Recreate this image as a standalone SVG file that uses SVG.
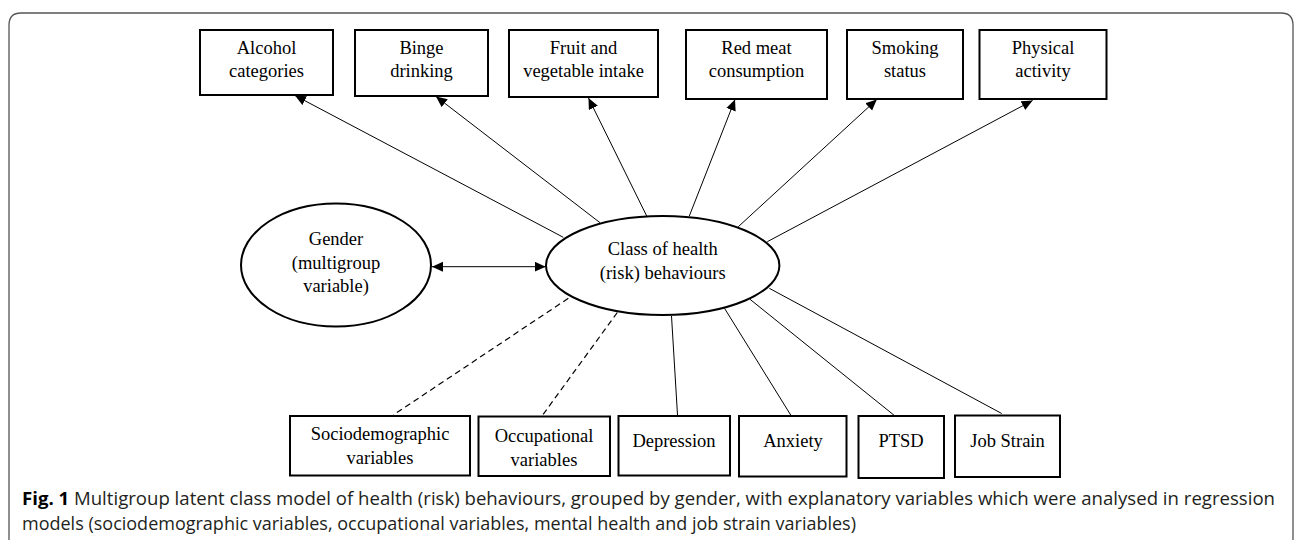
<svg xmlns="http://www.w3.org/2000/svg" width="1295" height="540" viewBox="0 0 1295 540">
<defs>
<marker id="ah" markerUnits="userSpaceOnUse" markerWidth="12" markerHeight="11" refX="11" refY="5" orient="auto-start-reverse">
<path d="M0,0 L11,5 L0,10 z" fill="#000"/>
</marker>
<style>
.box{fill:#fff;stroke:#000;stroke-width:2}
.ell{fill:#fff;stroke:#000;stroke-width:2}
.t{font-family:"Liberation Serif","Times New Roman",serif;font-size:18.5px;fill:#000;text-anchor:middle}
.c{stroke:#000;stroke-width:1;fill:none}
.arr{marker-end:url(#ah)}
.dash{stroke-dasharray:6 4;stroke-width:1.2}
.cap{font-family:"Open Sans","Noto Sans",sans-serif;font-size:18px;fill:#231f20}
</style>
</defs>
<rect width="1295" height="540" fill="#fff"/>
<path d="M9,540 L9,25 Q9,13 21,13 L1281,13 Q1293,13 1293,25 L1293,540" fill="none" stroke="#555" stroke-width="1.3"/>
<g id="connectors">
<line class="c arr" x1="563.3" y1="237.3" x2="295" y2="95.5"/>
<line class="c arr" x1="600" y1="222.7" x2="436" y2="96.5"/>
<line class="c arr" x1="646.7" y1="216" x2="588.5" y2="98"/>
<line class="c arr" x1="689.3" y1="216" x2="735" y2="99.5"/>
<line class="c arr" x1="738.3" y1="226.7" x2="876.8" y2="99.5"/>
<line class="c arr" x1="767.3" y1="241.7" x2="1032.6" y2="100.5"/>
<line class="c" x1="432" y1="266.7" x2="545.7" y2="266.7" marker-start="url(#ah)" marker-end="url(#ah)"/>
<line class="c dash" x1="568.3" y1="298.3" x2="393.3" y2="415"/>
<line class="c dash" x1="617.3" y1="312.5" x2="542.7" y2="415"/>
<line class="c" x1="671.5" y1="316" x2="677.5" y2="415"/>
<line class="c" x1="724.5" y1="308.3" x2="790.7" y2="415"/>
<line class="c" x1="750" y1="299.3" x2="895" y2="416"/>
<line class="c" x1="769.3" y1="288.3" x2="1001.7" y2="413.5"/>
</g>
<g id="alcohol"><rect class="box" x="200" y="30" width="133" height="65"/><text class="t" x="266.5" y="54">Alcohol</text><text class="t" x="266.5" y="77">categories</text></g>
<g id="binge"><rect class="box" x="355" y="30" width="133" height="66"/><text class="t" x="421.5" y="54">Binge</text><text class="t" x="421.5" y="77">drinking</text></g>
<g id="fruit"><rect class="box" x="509" y="30" width="149" height="67"/><text class="t" x="583.5" y="54">Fruit and</text><text class="t" x="583.5" y="77">vegetable intake</text></g>
<g id="redmeat"><rect class="box" x="686" y="30" width="141" height="69"/><text class="t" x="756.5" y="54">Red meat</text><text class="t" x="756.5" y="77">consumption</text></g>
<g id="smoking"><rect class="box" x="847" y="30" width="116" height="69"/><text class="t" x="905" y="54">Smoking</text><text class="t" x="905" y="77">status</text></g>
<g id="physical"><rect class="box" x="979.5" y="30" width="127" height="69"/><text class="t" x="1043" y="54">Physical</text><text class="t" x="1043" y="77">activity</text></g>
<g id="gender"><ellipse class="ell" cx="336" cy="265" rx="95" ry="61.5"/><text class="t" x="336" y="245">Gender</text><text class="t" x="336" y="268.5">(multigroup</text><text class="t" x="336" y="292">variable)</text></g>
<g id="class"><ellipse class="ell" cx="662.7" cy="265.5" rx="116.7" ry="49.5"/><text class="t" x="662.7" y="255">Class of health</text><text class="t" x="662.7" y="278.5">(risk) behaviours</text></g>
<g id="socio"><rect class="box" x="290" y="416" width="180" height="59.5"/><text class="t" x="380" y="440">Sociodemographic</text><text class="t" x="380" y="463.5">variables</text></g>
<g id="occupational"><rect class="box" x="478.5" y="416.5" width="131.5" height="59.5"/><text class="t" x="544" y="442">Occupational</text><text class="t" x="544" y="465.5">variables</text></g>
<g id="depression"><rect class="box" x="618.5" y="416" width="111.5" height="59.5"/><text class="t" x="674" y="447">Depression</text></g>
<g id="anxiety"><rect class="box" x="739" y="416" width="107.5" height="60.5"/><text class="t" x="793" y="447">Anxiety</text></g>
<g id="ptsd"><rect class="box" x="858.5" y="416" width="85.5" height="62"/><text class="t" x="901" y="447">PTSD</text></g>
<g id="jobstrain"><rect class="box" x="955" y="415.5" width="105" height="61.5"/><text class="t" x="1007.5" y="447">Job Strain</text></g>
<g id="caption">
<text class="cap" x="22" y="505" textLength="1253" lengthAdjust="spacingAndGlyphs"><tspan font-weight="bold" fill="#000">Fig. 1</tspan>  Multigroup latent class model of health (risk) behaviours, grouped by gender, with explanatory variables which were analysed in regression</text>
<text class="cap" x="22" y="530">models (sociodemographic variables, occupational variables, mental health and job strain variables)</text>
</g>
</svg>
